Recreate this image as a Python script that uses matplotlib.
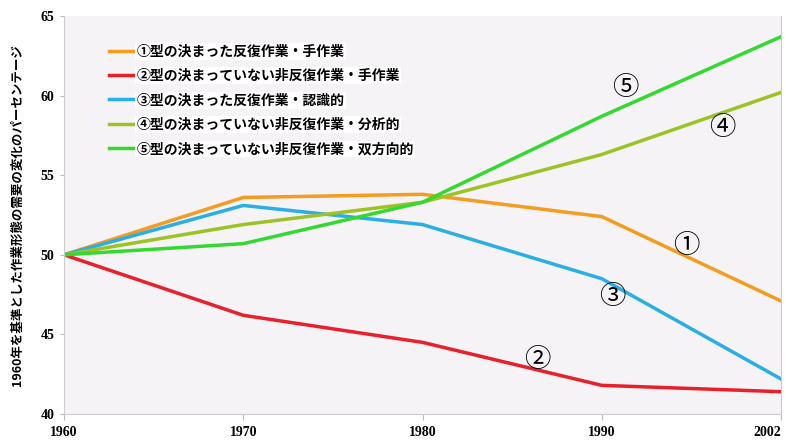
import matplotlib.pyplot as plt

plt.rcParams['font.family'] = ['Noto Sans CJK JP', 'DejaVu Sans']

years = ['1960', '1970', '1980', '1990', '2002']
routine_manual = [50, 53.6, 53.8, 52.4, 47.1]
nonroutine_manual = [50, 46.2, 44.5, 41.8, 41.4]
routine_cognitive = [50, 53.1, 51.9, 48.5, 42.2]
nonroutine_analytic = [50, 51.9, 53.3, 56.3, 60.2]
nonroutine_interactive = [50, 50.7, 53.3, 58.7, 63.7]

labels = ['①型の決まった反復作業・手作業',
          '②型の決まっていない非反復作業・手作業',
          '③型の決まった反復作業・認識的',
          '④型の決まっていない非反復作業・分析的',
          '⑤型の決まっていない非反復作業・双方向的']
colours = ['#f39c1f', '#e8202a', '#29aee6', '#9cc226', '#33d92f']
marks = ['①', '②', '③', '④', '⑤']
mark_pos = [(3.47, 50.6), (2.64, 43.4), (3.06, 47.4), (3.67, 58.0), (3.13, 60.5)]

series = [routine_manual, nonroutine_manual, routine_cognitive,
          nonroutine_analytic, nonroutine_interactive]

fig = plt.figure(figsize=(7.86, 4.41), dpi=100)
ax = fig.add_axes([64 / 786, 27 / 441, 717 / 786, 398 / 441])
ax.set_facecolor('#f5f3f6')

x = range(len(years))
for vals, lab, col in zip(series, labels, colours):
    ax.plot(x, vals, color=col, lw=2.5, label=lab)

# circled numbers next to each line
for m, (mx, my) in zip(marks, mark_pos):
    ax.text(mx, my, m, fontsize=19, ha='center', va='center', color='black')

ax.set_xlim(0, 4)
ax.set_ylim(40, 65)
ax.set_xticks(list(x))
ax.set_xticklabels(years)
ax.set_yticks([40, 45, 50, 55, 60, 65])
for t in ax.get_xticklabels() + ax.get_yticklabels():
    t.set_family('Liberation Serif')
    t.set_fontweight('bold')
    t.set_fontsize(10)
ax.get_xticklabels()[-1].set_horizontalalignment('right')
ax.tick_params(axis='x', pad=5, length=4, color='#bbbbbb')
ax.tick_params(axis='y', pad=4, length=3, color='#bbbbbb')
for s in ax.spines.values():
    s.set_color('#cccccc')
ax.spines['top'].set_visible(False)

ax.set_ylabel('1960年を基準とした作業形態の需要の変化のパーセンテージ',
              fontsize=9, fontweight='bold', labelpad=12)

leg = ax.legend(loc='upper left', bbox_to_anchor=(0.045, 0.96), frameon=False,
                fontsize=10, handlelength=1.8, handletextpad=0.2,
                labelspacing=0.75)
for t in leg.get_texts():
    t.set_fontweight('bold')
    t.set_bbox(dict(facecolor='white', edgecolor='none', pad=1))

fig.savefig('out.png', dpi=100)
